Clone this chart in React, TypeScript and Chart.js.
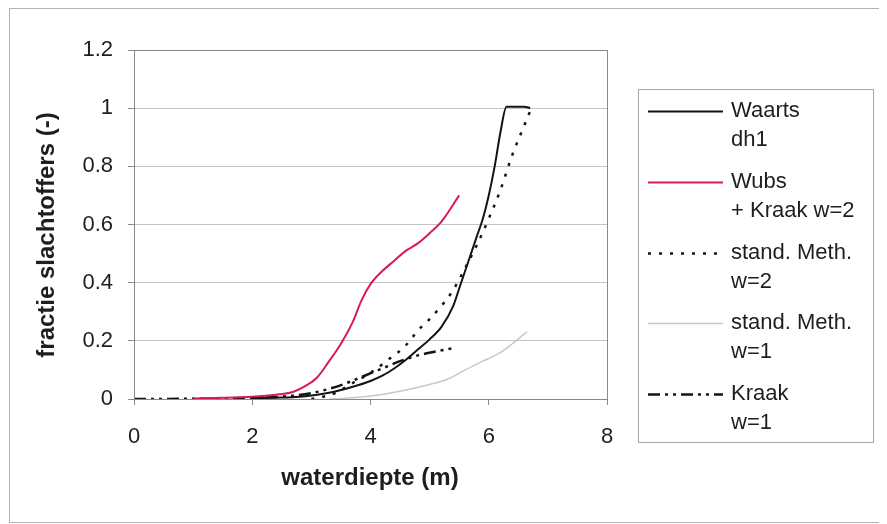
import React, { useEffect, useRef } from 'react';
import { Chart, registerables } from 'chart.js';

Chart.register(...registerables);

// waterdiepte (m) and fractie slachtoffers (-) per method
const waartsDepth = [2.0, 2.5, 2.8, 3.0, 3.2, 3.4, 3.6, 3.8, 4.0, 4.2, 4.4, 4.6, 4.8, 5.0, 5.2, 5.4, 5.5, 5.6, 5.7, 5.8, 5.9, 6.0, 6.1, 6.2, 6.3, 6.45, 6.6, 6.7];
const waartsFrac = [0.003, 0.005, 0.008, 0.012, 0.018, 0.026, 0.036, 0.048, 0.062, 0.08, 0.105, 0.135, 0.17, 0.205, 0.248, 0.32, 0.38, 0.44, 0.5, 0.56, 0.62, 0.7, 0.8, 0.92, 1.005, 1.005, 1.005, 1.0];

const wubsDepth = [1.0, 1.5, 2.0, 2.4, 2.7, 2.9, 3.1, 3.3, 3.5, 3.7, 3.85, 4.0, 4.2, 4.4, 4.6, 4.8, 5.0, 5.2, 5.5];
const wubsFrac = [0.002, 0.004, 0.008, 0.015, 0.025, 0.045, 0.075, 0.13, 0.19, 0.265, 0.34, 0.395, 0.44, 0.475, 0.51, 0.535, 0.57, 0.61, 0.7];

const standW2Depth = [3.0, 3.2, 3.4, 3.7, 4.0, 4.3, 4.6, 4.8, 5.0, 5.2, 5.4, 5.6, 5.8, 6.0, 6.2, 6.4, 6.6, 6.7];
const standW2Frac = [0.0, 0.008, 0.02, 0.055, 0.09, 0.135, 0.185, 0.235, 0.275, 0.32, 0.375, 0.45, 0.53, 0.62, 0.72, 0.84, 0.94, 0.99];

const standW1Depth = [3.3, 3.6, 4.0, 4.5, 5.0, 5.3, 5.6, 5.9, 6.2, 6.4, 6.65];
const standW1Frac = [0.0, 0.003, 0.01, 0.027, 0.05, 0.068, 0.1, 0.13, 0.16, 0.19, 0.232];

const kraakDepth = [0, 1.0, 2.0, 2.5, 3.0, 3.3, 3.6, 3.9, 4.2, 4.5, 4.8, 5.1, 5.4];
const kraakFrac = [0, 0.001, 0.004, 0.008, 0.02, 0.035, 0.055, 0.08, 0.105, 0.13, 0.15, 0.163, 0.175];

const seriesLabels = [
  ['Waarts', 'dh1'],
  ['Wubs', '+ Kraak w=2'],
  ['stand. Meth.', 'w=2'],
  ['stand. Meth.', 'w=1'],
  ['Kraak', 'w=1'],
];

const xTickLabels = ['0', '2', '4', '6', '8'];
const yTickLabels = ['0', '0.2', '0.4', '0.6', '0.8', '1', '1.2'];

const xTitle = 'waterdiepte (m)';
const yTitle = 'fractie slachtoffers (-)';

const FONT = '"Liberation Sans", Arial, sans-serif';
const TEXT = '#1e1e1e';

const pairs = (xs: number[], ys: number[]) => xs.map((x, i) => ({ x, y: ys[i] }));

// frames, axis titles and the two-line legend
const decorPlugin = {
  id: 'decor',
  afterDraw(chart: any) {
    const ctx = chart.ctx as CanvasRenderingContext2D;
    const a = chart.chartArea;
    ctx.save();

    // plot area box
    ctx.strokeStyle = '#8a8a8a';
    ctx.lineWidth = 1;
    ctx.strokeRect(Math.round(a.left) + 0.5, Math.round(a.top) + 0.5, Math.round(a.right - a.left), Math.round(a.bottom - a.top));

    // outer frame
    ctx.strokeStyle = '#b4b4b4';
    ctx.strokeRect(1.5, 0.5, chart.width - 3, chart.height - 2);

    // axis titles
    ctx.fillStyle = TEXT;
    ctx.font = `bold 24px ${FONT}`;
    ctx.textAlign = 'center';
    ctx.textBaseline = 'middle';
    ctx.fillText(xTitle, 362, 470);
    ctx.save();
    ctx.translate(39, 227);
    ctx.rotate(-Math.PI / 2);
    ctx.fillText(yTitle, 0, 0);
    ctx.restore();

    // legend
    const bx = 630, by = 81, bw = 235, bh = 353;
    ctx.fillStyle = '#ffffff';
    ctx.fillRect(bx, by, bw, bh);
    ctx.strokeStyle = '#a8a8a8';
    ctx.strokeRect(bx + 0.5, by + 0.5, bw, bh);

    const firstY = 103;
    const step = 70.75;
    const lineGap = 29;
    chart.data.datasets.forEach((ds: any, i: number) => {
      const y = firstY + i * step;
      ctx.save();
      ctx.strokeStyle = ds.borderColor;
      ctx.lineWidth = ds.borderWidth;
      ctx.setLineDash(ds.borderDash || []);
      ctx.beginPath();
      ctx.moveTo(640, Math.round(y) + 0.5);
      ctx.lineTo(715, Math.round(y) + 0.5);
      ctx.stroke();
      ctx.restore();
      ctx.fillStyle = TEXT;
      ctx.font = `22px ${FONT}`;
      ctx.textAlign = 'left';
      ctx.textBaseline = 'middle';
      const lines = seriesLabels[i];
      lines.forEach((t, k) => ctx.fillText(t, 723, y + k * lineGap));
    });

    ctx.restore();
  },
};

export default function App() {
  const canvasRef = useRef<HTMLCanvasElement | null>(null);

  useEffect(() => {
    if (!canvasRef.current) return;
    const chart = new Chart(canvasRef.current, {
      type: 'line',
      data: {
        datasets: [
          {
            label: seriesLabels[0].join(' '),
            data: pairs(waartsDepth, waartsFrac),
            borderColor: '#141414',
            borderWidth: 2,
          },
          {
            label: seriesLabels[1].join(' '),
            data: pairs(wubsDepth, wubsFrac),
            borderColor: '#d8195c',
            borderWidth: 2,
          },
          {
            label: seriesLabels[2].join(' '),
            data: pairs(standW2Depth, standW2Frac),
            borderColor: '#141414',
            borderWidth: 2.5,
            borderDash: [3, 8],
          },
          {
            label: seriesLabels[3].join(' '),
            data: pairs(standW1Depth, standW1Frac),
            borderColor: '#c8c8c8',
            borderWidth: 1.5,
          },
          {
            label: seriesLabels[4].join(' '),
            data: pairs(kraakDepth, kraakFrac),
            borderColor: '#141414',
            borderWidth: 2.5,
            borderDash: [12, 5, 3, 5, 3, 5],
          },
        ] as any,
      },
      options: {
        animation: false,
        responsive: false,
        maintainAspectRatio: false,
        elements: {
          point: { radius: 0, hoverRadius: 0 },
          line: { cubicInterpolationMode: 'monotone', fill: false },
        },
        layout: { padding: { left: 0, right: 274, top: 42, bottom: 0 } },
        plugins: {
          legend: { display: false },
          tooltip: { enabled: false },
          title: { display: false },
        },
        scales: {
          x: {
            type: 'linear',
            min: 0,
            max: 8,
            afterFit: (s: any) => { s.height = 125; },
            ticks: {
              stepSize: 2,
              padding: 19,
              color: TEXT,
              font: { family: FONT, size: 22 },
              callback: (_v: any, i: number) => xTickLabels[i],
              maxRotation: 0,
            },
            grid: { drawOnChartArea: false, drawTicks: true, tickLength: 6, color: '#8a8a8a' },
            border: { color: '#8a8a8a' },
          },
          y: {
            type: 'linear',
            min: 0,
            max: 1.2,
            afterFit: (s: any) => { s.width = 126; },
            ticks: {
              stepSize: 0.2,
              padding: 15,
              color: TEXT,
              font: { family: FONT, size: 22 },
              callback: (_v: any, i: number) => yTickLabels[i],
            },
            grid: { color: '#c4c4c4', tickColor: '#8a8a8a', tickLength: 6 },
            border: { color: '#8a8a8a' },
          },
        },
      } as any,
      plugins: [decorPlugin],
    });
    return () => chart.destroy();
  }, []);

  return (
    <div style={{ width: 873, height: 516 }}>
      <canvas ref={canvasRef} width={873} height={516} style={{ display: 'block', width: 873, height: 516 }} />
    </div>
  );
}
